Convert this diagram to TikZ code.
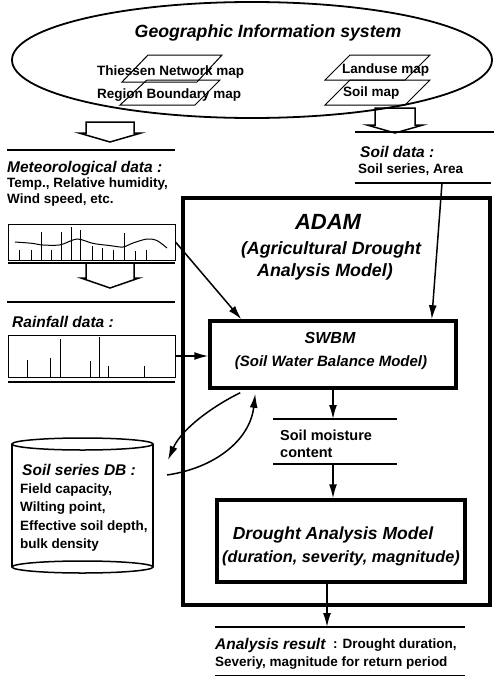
\documentclass[tikz,border=0pt]{standalone}
\usepackage{fontspec}
\setmainfont{Liberation Sans}
\usetikzlibrary{calc,arrows.meta,shapes.geometric}
\def\hollowarrow(#1,#2)(#3:#4:#5:#6){\draw[line width=1.5pt, shift={(#1,#2)}] ({-#3},{-#5-#6}) -- ({-#3},{-#6}) -- ({-#4},{-#6}) -- (0,0) -- (#4,{-#6}) -- (#3,{-#6}) -- (#3,{-#5-#6}) -- cycle;}

\begin{document}
\begin{tikzpicture}[x=1pt, y=-1pt,
		heading/.style={font=\fontsize{15.5}{18}\selectfont\bfseries\itshape, anchor=west, inner sep=0pt},
		body/.style={font=\fontsize{13.5}{16}\selectfont\bfseries, anchor=west, inner sep=0pt},
		headline/.style={font=\fontsize{#1}{#1}\selectfont\bfseries\itshape, inner sep=0pt},
		heavybox/.style={draw, line width=3.5pt, inner sep=0pt},
		chartbox/.style={draw, line width=1pt, inner sep=0pt},
		ruleline/.style={line width=1.5pt},
		flow/.style={line width=1.5pt, -{Latex[length=14pt,width=8pt]}}]
			%%%%% START %%%%%
			\useasboundingbox (0,0) rectangle (494,680);
			
			\node[draw, ellipse, line width=1.8pt, minimum width=480pt, minimum height=116pt, inner sep=0pt] (gis) at (252,60) {};
			\node[headline=17.7] (gistitle) at (268,33) {Geographic Information system};
			
			\draw[line width=1pt] (148,55) -- (222,55) -- (197,82) -- (122,82) -- cycle;
			\draw[line width=1pt] (147,80) -- (220,80) -- (195,105) -- (120,105) -- cycle;
			\draw[line width=1pt] (350,55) -- (430,55) -- (405,80) -- (325,80) -- cycle;
			\draw[line width=1pt] (350,80) -- (430,80) -- (405,105) -- (325,105) -- cycle;
			\node[body] (thiessen) at (97,72) {Thiessen Network map};
			\node[body] (region) at (97,95) {Region Boundary map};
			\node[body] (landuse) at (342,70) {Landuse map};
			\node[body] (soilmap) at (343,93) {Soil map};
			
			\hollowarrow(110,142)(24:31:11:9)
			\hollowarrow(395,133)(20:28:17:8)
			\hollowarrow(110,288)(24:29:15:10)
			
			\draw[ruleline] (7,150) -- (175,150);
			\draw[ruleline] (355,132) -- (494,132);
			
			\node[heading] (meteo) at (7,168) {Meteorological data :};
			\node[body] (meteo1) at (7,184) {Temp., Relative humidity,};
			\node[body] (meteo2) at (7,200) {Wind speed, etc.};
			
			\node[chartbox, minimum width=167pt, minimum height=36pt] (metchart) at (91.5,242) {};
			\foreach \x/\y in {19/250,31/250,41/232,51/250,61/232,71/227,80/230,92/246,102/248,113/250,124/233,135/251,146/250}
				\draw[line width=1pt] (\x,260) -- (\x,\y);
			\draw[line width=1pt] plot[smooth] coordinates {(15,242) (33,243.4) (41,244.9) (60,244.9) (77,239) (93,243.4) (110,245.6) (123,247) (133,243) (147,239) (157,240.6) (167,248)};
			\draw[ruleline] (8,263) -- (175,263);
			
			\draw[ruleline] (7,302) -- (175,302);
			\node[heading] (rain) at (12,322) {Rainfall data :};
			\node[chartbox, minimum width=167pt, minimum height=42pt] (rainchart) at (91.5,356) {};
			\foreach \x/\y in {27/360,50/358,60/339,90/361,99/337,108/366,144/366}
				\draw[line width=1pt] (\x,377) -- (\x,\y);
			\draw[ruleline] (8,382) -- (175,382);
			
			\node[heading] (soil) at (360,152) {Soil data :};
			\node[body] (soil1) at (358,170) {Soil series, Area};
			\draw[ruleline] (355,183) -- (491,183);
			\coordinate (soilout) at (442,183);
			
			\node[heavybox, minimum width=307pt, minimum height=407pt] (adam) at (336.5,401.5) {};
			\node[headline=22] (adamtitle) at (328,222) {ADAM};
			\node[headline=17.8] (adamsub1) at (331,250) {(Agricultural Drought};
			\node[headline=17.8] (adamsub2) at (325,272) {Analysis Model)};
			
			\node[heavybox, minimum width=246pt, minimum height=67pt] (swbm) at (333,354.5) {};
			\node[headline=16] (swbmtitle) at (330,338) {SWBM};
			\node[headline=15] (swbmsub) at (331,363) {(Soil Water Balance Model)};
			
			\coordinate (smtop) at (333,419);
			\coordinate (smbot) at (333,464);
			\draw[ruleline] (273,419) -- (397,419);
			\node[body, font=\fontsize{14.5}{17}\selectfont\bfseries] (sm1) at (280,435) {Soil moisture};
			\node[body, font=\fontsize{14.5}{17}\selectfont\bfseries] (sm2) at (280,453) {content};
			\draw[ruleline] (273,464) -- (397,464);
			
			\node[heavybox, minimum width=248pt, minimum height=82pt] (dam) at (341,541) {};
			\node[headline=17.5] (damtitle) at (333,535) {Drought Analysis Model};
			\node[headline=16.3] (damsub) at (341,558) {(duration, severity, magnitude)};
			
			\coordinate (res) at (327,627);
			\draw[ruleline] (215,627) -- (465,627);
			\node[heading] (result) at (215,645) {Analysis result};
			\node[body] (result1) at (333,645) {: Drought duration,};
			\node[body] (result2) at (215,663) {Severiy, magnitude for return period};
			\draw[line width=1pt] (215,675) -- (465,675);
			
			\draw[line width=1.5pt] (12,444) -- (12,567) (153,444) -- (153,567);
			\draw[line width=1.5pt] (82.5,444) ellipse [x radius=70.5, y radius=6];
			\draw[line width=1.5pt] (82.5,567) ellipse [x radius=70.5, y radius=6];
			\node[heading] (db) at (22,470) {Soil series DB :};
			\node[body] (db1) at (20,490) {Field capacity,};
			\node[body] (db2) at (20,508) {Wilting point,};
			\node[body] (db3) at (20,527) {Effective soil depth,};
			\node[body] (db4) at (20,545) {bulk density};
			\coordinate (dbin) at (168,460);
			\coordinate (dbout) at (167,475);
			
			\draw[flow] (metchart.east) -- ($(swbm.north west)+(33,0)$);
			\draw[flow] (rainchart.east) -- (swbm.west |- rainchart.east);
			\draw[flow] (soilout) -- ($(swbm.north east)+(-26,0)$);
			\draw[flow] (swbm.south) -- (smtop);
			\draw[flow] (smbot) -- (smbot |- dam.north);
			\draw[flow] (dam.south -| res) -- (res);
			\draw[flow] ($(swbm.south west)+(32,3)$) .. controls (215,405) and (182,428) .. (dbin);
			\draw[flow] (dbout) .. controls (215,468) and (250,440) .. ($(swbm.south west)+(47,4)$);
			
			%%%%% END %%%%%
\end{tikzpicture}
\end{document}
